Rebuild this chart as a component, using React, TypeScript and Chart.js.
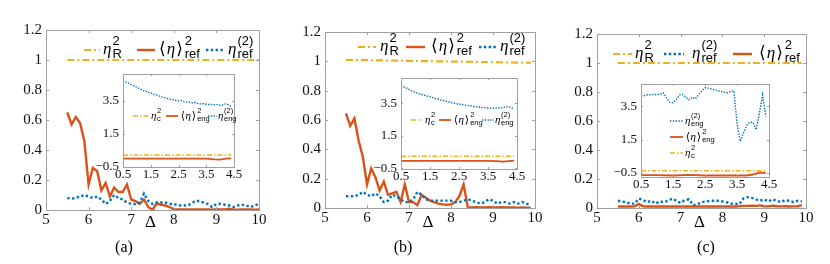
import { useEffect, useRef } from "react";
import { Chart, registerables } from "chart.js";

Chart.register(...registerables);

const W = 830;
const H = 264;

// ---------------- data ----------------
const DELTA_A = [5.5, 5.6, 5.7, 5.8, 5.9, 6.0, 6.1, 6.2, 6.3, 6.4, 6.5, 6.6, 6.7, 6.8, 6.9, 7.0, 7.1, 7.2, 7.3, 7.4, 7.5, 7.6, 7.7, 7.8, 7.9, 8.0, 8.1, 8.2, 8.3, 8.4, 8.5, 8.6, 8.7, 8.8, 8.9, 9.0, 9.1, 9.2, 9.3, 9.4, 9.5, 9.6, 9.7, 9.8, 9.9, 10.0];
const DELTA_BC = [5.5, 5.6, 5.7, 5.8, 5.9, 6.0, 6.1, 6.2, 6.3, 6.4, 6.5, 6.6, 6.7, 6.8, 6.9, 7.0, 7.1, 7.2, 7.3, 7.4, 7.5, 7.6, 7.7, 7.8, 7.9, 8.0, 8.1, 8.2, 8.3, 8.4, 8.5, 8.6, 8.7, 8.8, 8.9, 9.0, 9.1, 9.2, 9.3, 9.4, 9.5, 9.6, 9.7, 9.8, 9.9];

const ETA_R_X_A = [5.5, 10];
const ETA_R_X_BC = [5.5, 9.9];
const ETA_R_A = [1, 1];
const ETA_R_B = [1.01, 0.99];
const ETA_R_C = [1, 1];

const AVG_REF_A = [0.65, 0.57, 0.62, 0.58, 0.46, 0.17, 0.28, 0.26, 0.13, 0.18, 0.09, 0.15, 0.12, 0.12, 0.17, 0.07, 0.06, 0.04, 0.07, 0.02, 0.0, 0.045, 0.035, 0.03, 0.02, 0.005, 0.004, 0.004, 0.003, 0.004, 0.003, 0.003, 0.004, 0.003, 0.002, 0.003, 0.004, 0.003, 0.008, 0.003, 0.002, 0.003, 0.004, 0.003, 0.002, 0.003];
const ETA2_REF_A = [0.08, 0.075, 0.08, 0.09, 0.1, 0.09, 0.08, 0.09, 0.07, 0.04, 0.06, 0.1, 0.08, 0.07, 0.05, 0.04, 0.04, 0.05, 0.11, 0.06, 0.04, 0.05, 0.05, 0.05, 0.04, 0.04, 0.03, 0.03, 0.03, 0.04, 0.06, 0.06, 0.05, 0.04, 0.02, 0.04, 0.04, 0.035, 0.03, 0.02, 0.03, 0.035, 0.03, 0.02, 0.03, 0.04];

const AVG_REF_B = [0.645, 0.56, 0.61, 0.46, 0.35, 0.16, 0.27, 0.21, 0.12, 0.18, 0.09, 0.1, 0.11, 0.04, 0.16, 0.04, 0.04, 0.02, 0.09, 0.07, 0.05, 0.04, 0.03, 0.025, 0.022, 0.025, 0.04, 0.08, 0.16, 0.005, 0.004, 0.006, 0.004, 0.003, 0.005, 0.004, 0.003, 0.006, 0.003, 0.003, 0.004, 0.002, 0.003, 0.002, 0.002];
const ETA2_REF_B = [0.08, 0.08, 0.08, 0.09, 0.11, 0.09, 0.08, 0.1, 0.08, 0.04, 0.05, 0.09, 0.08, 0.06, 0.04, 0.04, 0.06, 0.11, 0.09, 0.06, 0.05, 0.05, 0.05, 0.05, 0.05, 0.05, 0.04, 0.04, 0.05, 0.06, 0.05, 0.04, 0.03, 0.04, 0.06, 0.05, 0.03, 0.04, 0.04, 0.03, 0.04, 0.03, 0.04, 0.03, 0.02];

const AVG_REF_C = [0.01, 0.01, 0.01, 0.01, 0.012, 0.028, 0.012, 0.01, 0.01, 0.01, 0.01, 0.01, 0.01, 0.01, 0.01, 0.01, 0.01, 0.01, 0.01, 0.01, 0.01, 0.01, 0.01, 0.01, 0.01, 0.01, 0.01, 0.01, 0.01, 0.012, 0.015, 0.015, 0.016, 0.015, 0.018, 0.012, 0.011, 0.016, 0.012, 0.011, 0.012, 0.01, 0.011, 0.012, 0.02];
const ETA2_REF_C = [0.05, 0.045, 0.04, 0.03, 0.03, 0.065, 0.055, 0.04, 0.05, 0.03, 0.045, 0.04, 0.05, 0.065, 0.05, 0.035, 0.055, 0.06, 0.02, 0.025, 0.04, 0.045, 0.05, 0.05, 0.05, 0.045, 0.04, 0.03, 0.03, 0.025, 0.065, 0.075, 0.07, 0.06, 0.05, 0.06, 0.045, 0.06, 0.05, 0.04, 0.055, 0.05, 0.04, 0.05, 0.045];

const INSET_X = [0.5, 0.6, 0.7, 0.8, 0.9, 1.0, 1.1, 1.2, 1.3, 1.4, 1.5, 1.6, 1.7, 1.8, 1.9, 2.0, 2.1, 2.2, 2.3, 2.4, 2.5, 2.6, 2.7, 2.8, 2.9, 3.0, 3.1, 3.2, 3.3, 3.4, 3.5, 3.6, 3.7, 3.8, 3.9, 4.0, 4.1, 4.2, 4.3, 4.4];
const ETA2_ENG_A = [4.72, 4.62, 4.55, 4.46, 4.38, 4.3, 4.22, 4.12, 4.06, 4.0, 3.95, 3.88, 3.84, 3.78, 3.72, 3.68, 3.62, 3.58, 3.56, 3.52, 3.48, 3.49, 3.44, 3.41, 3.4, 3.36, 3.38, 3.32, 3.3, 3.31, 3.28, 3.26, 3.27, 3.25, 3.26, 3.22, 3.24, 3.3, 3.25, 3.14];
const ETA2_ENG_B = [4.6, 4.5, 4.42, 4.32, 4.22, 4.16, 4.1, 4.04, 4.0, 3.94, 3.9, 3.84, 3.78, 3.74, 3.68, 3.64, 3.6, 3.56, 3.52, 3.46, 3.45, 3.42, 3.38, 3.36, 3.34, 3.3, 3.28, 3.25, 3.24, 3.22, 3.2, 3.2, 3.19, 3.2, 3.2, 3.22, 3.26, 3.3, 3.22, 3.12];
const ETA2_ENG_C = [4.12, 4.15, 4.2, 4.2, 4.22, 4.2, 4.24, 4.32, 4.0, 3.74, 3.72, 3.9, 4.18, 4.22, 4.05, 3.9, 4.05, 3.96, 4.2, 4.45, 4.62, 4.6, 4.55, 4.5, 4.45, 4.4, 4.36, 4.32, 4.4, 4.44, 2.5, 1.4, 1.9, 2.35, 2.55, 2.55, 2.1, 3.1, 4.2, 2.9];

const ETA_C_X = [0.5, 4.4];
const ETA_C_A = [0.23, 0.23];
const ETA_C_B = [0.24, 0.24];
const ETA_C_C = [-0.38, -0.38];

const AVG_ENG_X = [0.5, 1.0, 1.5, 2.0, 2.5, 3.0, 3.5, 3.8, 4.0, 4.2, 4.4];
const AVG_ENG_A = [0, 0, 0, 0, 0, 0, 0, -0.04, -0.05, 0, 0.02];
const AVG_ENG_B = [-0.05, -0.05, -0.05, -0.05, -0.05, -0.05, -0.05, -0.07, -0.09, -0.06, -0.04];
const AVG_ENG_C = [-0.64, -0.64, -0.66, -0.62, -0.66, -0.66, -0.66, -0.66, -0.6, -0.48, -0.52];

const MAIN_X_TICKS = [5, 6, 7, 8, 9, 10];
const MAIN_Y_TICKS = [0, 0.2, 0.4, 0.6, 0.8, 1, 1.2];
const INSET_X_TICKS = [0.5, 1.5, 2.5, 3.5, 4.5];
const INSET_Y_TICKS = [-0.5, 1.5, 3.5];
const CAPTIONS = ["(a)", "(b)", "(c)"];
const X_LABEL = "Δ";

// ---------------- styles ----------------
const BLUE = "#0072BD";
const RED = "#D95319";
const YELLOW = "#EDB120";
const BOX = "#a0a0a0";
const SERIF = "'Liberation Serif', 'Times New Roman', serif";
const SANS = "'Liberation Sans', Arial, sans-serif";

type Kind = "solid" | "dotted" | "dashdot";
type Size = "main" | "inset";
interface Series { xs: number[]; ys: number[]; kind: Kind; color: string }
interface Glyph { t: string; bracket?: boolean }
interface Label { base: Glyph[]; sup: string; sub: string }
interface LegendItem { kind: Kind; color: string; x0: number; x1: number; tx: number; cy: number; label: Label }
interface Area { left: number; right: number; top: number; bottom: number }

const LINE: Record<Size, Record<Kind, { w: number; dash: number[] }>> = {
  main: { solid: { w: 2.4, dash: [] }, dotted: { w: 2.4, dash: [2.4, 2.4] }, dashdot: { w: 2.2, dash: [7, 3, 2, 3] } },
  inset: { solid: { w: 1.8, dash: [] }, dotted: { w: 1.4, dash: [1.4, 1.4] }, dashdot: { w: 1.5, dash: [5, 2, 1.5, 2] } },
};

const ETA: Glyph = { t: "η" };
const AVG: Glyph[] = [{ t: "⟨", bracket: true }, { t: "η" }, { t: "⟩", bracket: true }];
const L_ETA_R: Label = { base: [ETA], sup: "2", sub: "R" };
const L_AVG_REF: Label = { base: AVG, sup: "2", sub: "ref" };
const L_ETA2_REF: Label = { base: [ETA], sup: "(2)", sub: "ref" };
const L_ETA_C: Label = { base: [ETA], sup: "2", sub: "c" };
const L_AVG_ENG: Label = { base: AVG, sup: "2", sub: "eng" };
const L_ETA2_ENG: Label = { base: [ETA], sup: "(2)", sub: "eng" };

function drawLabel(ctx: CanvasRenderingContext2D, label: Label, x: number, cy: number, size: Size) {
  const big = size === "main";
  const bs = big ? 17 : 11;
  const ss = big ? 13 : 7.5;
  const baseDy = big ? 4 : 2.8;
  const supDy = big ? -5 : -3;
  const subDy = big ? 8 : 5.2;
  ctx.fillStyle = "#000";
  ctx.textAlign = "left";
  ctx.textBaseline = "alphabetic";
  let cx = x;
  for (const g of label.base) {
    if (g.bracket) {
      ctx.font = `${bs}px 'DejaVu Sans'`;
      cx += bs * 0.06;
      ctx.fillText(g.t, cx, cy + baseDy);
      cx += ctx.measureText(g.t).width + bs * 0.06;
    } else {
      ctx.font = `italic ${bs}px ${SERIF}`;
      ctx.fillText(g.t, cx, cy + baseDy);
      cx += ctx.measureText(g.t).width;
    }
  }
  cx += big ? 1 : 0.5;
  ctx.font = `${ss}px ${SANS}`;
  ctx.fillText(label.sup, cx, cy + supDy);
  ctx.fillText(label.sub, cx, cy + subDy);
}

function drawSample(ctx: CanvasRenderingContext2D, it: LegendItem, size: Size) {
  const st = LINE[size][it.kind];
  ctx.save();
  ctx.strokeStyle = it.color;
  ctx.lineWidth = st.w;
  ctx.setLineDash(st.dash);
  ctx.lineCap = "butt";
  ctx.beginPath();
  ctx.moveTo(it.x0, it.cy);
  ctx.lineTo(it.x1, it.cy);
  ctx.stroke();
  ctx.restore();
}

interface PlotSpec {
  area: Area;
  size: Size;
  xRange: [number, number];
  yRange: [number, number];
  xTicks: number[];
  yTicks: number[];
  series: Series[];
  legend: LegendItem[];
  extra?: (chart: any, ctx: CanvasRenderingContext2D) => void;
}

interface PanelSpec {
  main: PlotSpec;
  inset: PlotSpec;
}

const fmt = (v: number) => String(v).replace("-", "\u2212");

function framePlugin(p: PlotSpec) {
  const tl = p.size === "main" ? 3 : 2;
  return {
    id: "frame",
    beforeDraw(chart: any) {
      if (p.size !== "inset") return;
      const a = chart.chartArea;
      const ctx = chart.ctx as CanvasRenderingContext2D;
      ctx.save();
      ctx.fillStyle = "#fff";
      ctx.fillRect(a.left, a.top, a.right - a.left, a.bottom - a.top);
      ctx.restore();
    },
    afterDraw(chart: any) {
      const ctx = chart.ctx as CanvasRenderingContext2D;
      const a = chart.chartArea;
      const xs = chart.scales.x;
      const ys = chart.scales.y;
      ctx.save();
      ctx.strokeStyle = BOX;
      ctx.lineWidth = 1;
      ctx.setLineDash([]);
      ctx.strokeRect(a.left + 0.5, a.top + 0.5, a.right - a.left, a.bottom - a.top);
      ctx.beginPath();
      for (const v of p.xTicks) {
        const px = Math.round(xs.getPixelForValue(v)) + 0.5;
        ctx.moveTo(px, a.bottom);
        ctx.lineTo(px, a.bottom - tl);
        ctx.moveTo(px, a.top);
        ctx.lineTo(px, a.top + tl);
      }
      for (const v of p.yTicks) {
        const py = Math.round(ys.getPixelForValue(v)) + 0.5;
        ctx.moveTo(a.left, py);
        ctx.lineTo(a.left + tl, py);
        ctx.moveTo(a.right, py);
        ctx.lineTo(a.right - tl, py);
      }
      ctx.stroke();
      for (const it of p.legend) {
        drawSample(ctx, it, p.size);
        drawLabel(ctx, it.label, it.tx, it.cy, p.size);
      }
      if (p.extra) p.extra(chart, ctx);
      ctx.restore();
    },
  };
}

function buildConfig(p: PlotSpec): any {
  const main = p.size === "main";
  const YW = main ? 40 : 30;
  const XH = main ? 30 : 16;
  const fontSize = main ? 15 : 13;
  return {
    type: "line",
    data: {
      datasets: p.series.map((s) => ({
        data: s.xs.map((x, i) => ({ x, y: s.ys[i] })),
        borderColor: s.color,
        borderWidth: LINE[p.size][s.kind].w,
        borderDash: LINE[p.size][s.kind].dash,
        borderCapStyle: "butt",
        pointRadius: 0,
        fill: false,
        tension: 0,
      })),
    },
    options: {
      responsive: false,
      animation: false,
      events: [],
      layout: {
        padding: {
          left: p.area.left - YW,
          right: W - p.area.right,
          top: p.area.top,
          bottom: H - p.area.bottom - XH,
        },
      },
      plugins: { legend: { display: false }, tooltip: { enabled: false } },
      scales: {
        x: {
          type: "linear",
          min: p.xRange[0],
          max: p.xRange[1],
          afterFit: (s: any) => { s.height = XH; },
          afterBuildTicks: (s: any) => { s.ticks = p.xTicks.map((v) => ({ value: v })); },
          grid: { display: false, drawTicks: false },
          border: { display: false },
          ticks: {
            font: { family: SERIF, size: fontSize },
            color: "#111",
            padding: main ? 1 : 0,
            maxRotation: 0,
            autoSkip: false,
            callback: (v: number) => fmt(v),
          },
        },
        y: {
          type: "linear",
          min: p.yRange[0],
          max: p.yRange[1],
          afterFit: (s: any) => { s.width = YW; },
          afterBuildTicks: (s: any) => { s.ticks = p.yTicks.map((v) => ({ value: v })); },
          grid: { display: false, drawTicks: false },
          border: { display: false },
          ticks: {
            font: { family: SERIF, size: fontSize },
            color: "#111",
            padding: 4,
            autoSkip: false,
            callback: (v: number) => fmt(v),
          },
        },
      },
    },
    plugins: [framePlugin(p)],
  };
}

function mainExtra(caption: string, captionX: number) {
  return (chart: any, ctx: CanvasRenderingContext2D) => {
    const xs = chart.scales.x;
    ctx.fillStyle = "#000";
    ctx.textAlign = "center";
    ctx.textBaseline = "middle";
    ctx.font = `17px ${SERIF}`;
    ctx.fillText(X_LABEL, xs.getPixelForValue(7.45), 223);
    ctx.font = `16px ${SERIF}`;
    ctx.fillText(caption, captionX, 248);
  };
}

const PANELS: PanelSpec[] = [
  {
    main: {
      area: { left: 46, right: 259, top: 30, bottom: 210 },
      size: "main",
      xRange: [5, 10],
      yRange: [0, 1.2],
      xTicks: MAIN_X_TICKS,
      yTicks: MAIN_Y_TICKS,
      series: [
        { xs: ETA_R_X_A, ys: ETA_R_A, kind: "dashdot", color: YELLOW },
        { xs: DELTA_A, ys: ETA2_REF_A, kind: "dotted", color: BLUE },
        { xs: DELTA_A, ys: AVG_REF_A, kind: "solid", color: RED },
      ],
      legend: [
        { kind: "dashdot", color: YELLOW, x0: 84, x1: 100, tx: 103, cy: 50, label: L_ETA_R },
        { kind: "solid", color: RED, x0: 137, x1: 155, tx: 158, cy: 50, label: L_AVG_REF },
        { kind: "dotted", color: BLUE, x0: 206, x1: 225, tx: 228, cy: 50, label: L_ETA2_REF },
      ],
      extra: mainExtra(CAPTIONS[0], 124),
    },
    inset: {
      area: { left: 123, right: 234, top: 74, bottom: 167 },
      size: "inset",
      xRange: [0.5, 4.5],
      yRange: [-0.5, 5.1],
      xTicks: INSET_X_TICKS,
      yTicks: INSET_Y_TICKS,
      series: [
        { xs: ETA_C_X, ys: ETA_C_A, kind: "dashdot", color: YELLOW },
        { xs: AVG_ENG_X, ys: AVG_ENG_A, kind: "solid", color: RED },
        { xs: INSET_X, ys: ETA2_ENG_A, kind: "dotted", color: BLUE },
      ],
      legend: [
        { kind: "dashdot", color: YELLOW, x0: 133, x1: 148, tx: 151, cy: 116, label: L_ETA_C },
        { kind: "solid", color: RED, x0: 166, x1: 178, tx: 180, cy: 116, label: L_AVG_ENG },
        { kind: "dotted", color: BLUE, x0: 208, x1: 217, tx: 218, cy: 116, label: L_ETA2_ENG },
      ],
    },
  },
  {
    main: {
      area: { left: 325, right: 535, top: 32, bottom: 208 },
      size: "main",
      xRange: [5, 10],
      yRange: [0, 1.2],
      xTicks: MAIN_X_TICKS,
      yTicks: MAIN_Y_TICKS,
      series: [
        { xs: ETA_R_X_BC, ys: ETA_R_B, kind: "dashdot", color: YELLOW },
        { xs: DELTA_BC, ys: ETA2_REF_B, kind: "dotted", color: BLUE },
        { xs: DELTA_BC, ys: AVG_REF_B, kind: "solid", color: RED },
      ],
      legend: [
        { kind: "dashdot", color: YELLOW, x0: 358, x1: 376, tx: 380, cy: 47, label: L_ETA_R },
        { kind: "solid", color: RED, x0: 406, x1: 425, tx: 430, cy: 47, label: L_AVG_REF },
        { kind: "dotted", color: BLUE, x0: 479, x1: 497, tx: 500, cy: 47, label: L_ETA2_REF },
      ],
      extra: mainExtra(CAPTIONS[1], 403),
    },
    inset: {
      area: { left: 401, right: 517, top: 78, bottom: 169 },
      size: "inset",
      xRange: [0.5, 4.5],
      yRange: [-0.55, 5.05],
      xTicks: INSET_X_TICKS,
      yTicks: INSET_Y_TICKS,
      series: [
        { xs: ETA_C_X, ys: ETA_C_B, kind: "dashdot", color: YELLOW },
        { xs: AVG_ENG_X, ys: AVG_ENG_B, kind: "solid", color: RED },
        { xs: INSET_X, ys: ETA2_ENG_B, kind: "dotted", color: BLUE },
      ],
      legend: [
        { kind: "dashdot", color: YELLOW, x0: 411, x1: 422, tx: 425, cy: 120, label: L_ETA_C },
        { kind: "solid", color: RED, x0: 439, x1: 451, tx: 453, cy: 120, label: L_AVG_ENG },
        { kind: "dotted", color: BLUE, x0: 482, x1: 494, tx: 495, cy: 120, label: L_ETA2_ENG },
      ],
    },
  },
  {
    main: {
      area: { left: 597, right: 806, top: 34, bottom: 208 },
      size: "main",
      xRange: [5, 10],
      yRange: [0, 1.2],
      xTicks: MAIN_X_TICKS,
      yTicks: MAIN_Y_TICKS,
      series: [
        { xs: ETA_R_X_BC, ys: ETA_R_C, kind: "dashdot", color: YELLOW },
        { xs: DELTA_BC, ys: ETA2_REF_C, kind: "dotted", color: BLUE },
        { xs: DELTA_BC, ys: AVG_REF_C, kind: "solid", color: RED },
      ],
      legend: [
        { kind: "dashdot", color: YELLOW, x0: 613, x1: 632, tx: 635, cy: 54, label: L_ETA_R },
        { kind: "dotted", color: BLUE, x0: 664, x1: 684, tx: 692, cy: 54, label: L_ETA2_REF },
        { kind: "solid", color: RED, x0: 733, x1: 752, tx: 758, cy: 54, label: L_AVG_REF },
      ],
      extra: mainExtra(CAPTIONS[2], 706),
    },
    inset: {
      area: { left: 641, right: 769, top: 84, bottom: 177 },
      size: "inset",
      xRange: [0.5, 4.5],
      yRange: [-0.75, 4.85],
      xTicks: INSET_X_TICKS,
      yTicks: INSET_Y_TICKS,
      series: [
        { xs: ETA_C_X, ys: ETA_C_C, kind: "dashdot", color: YELLOW },
        { xs: AVG_ENG_X, ys: AVG_ENG_C, kind: "solid", color: RED },
        { xs: INSET_X, ys: ETA2_ENG_C, kind: "dotted", color: BLUE },
      ],
      legend: [
        { kind: "dotted", color: BLUE, x0: 670, x1: 683, tx: 685, cy: 121, label: L_ETA2_ENG },
        { kind: "solid", color: RED, x0: 670, x1: 683, tx: 685, cy: 137, label: L_AVG_ENG },
        { kind: "dashdot", color: YELLOW, x0: 670, x1: 683, tx: 685, cy: 153, label: L_ETA_C },
      ],
    },
  },
];

function ChartLayer({ spec }: { spec: PlotSpec }) {
  const ref = useRef<HTMLCanvasElement | null>(null);
  useEffect(() => {
    if (!ref.current) return;
    const chart = new Chart(ref.current, buildConfig(spec));
    return () => chart.destroy();
  }, []);
  return (
    <canvas
      ref={ref}
      width={W}
      height={H}
      style={{ position: "absolute", left: 0, top: 0, width: W, height: H }}
    />
  );
}

export default function App() {
  return (
    <div style={{ position: "fixed", left: 0, top: 0, width: W, height: H, background: "#fff", overflow: "hidden" }}>
      {PANELS.map((p, i) => (
        <ChartLayer key={"m" + i} spec={p.main} />
      ))}
      {PANELS.map((p, i) => (
        <ChartLayer key={"i" + i} spec={p.inset} />
      ))}
    </div>
  );
}
